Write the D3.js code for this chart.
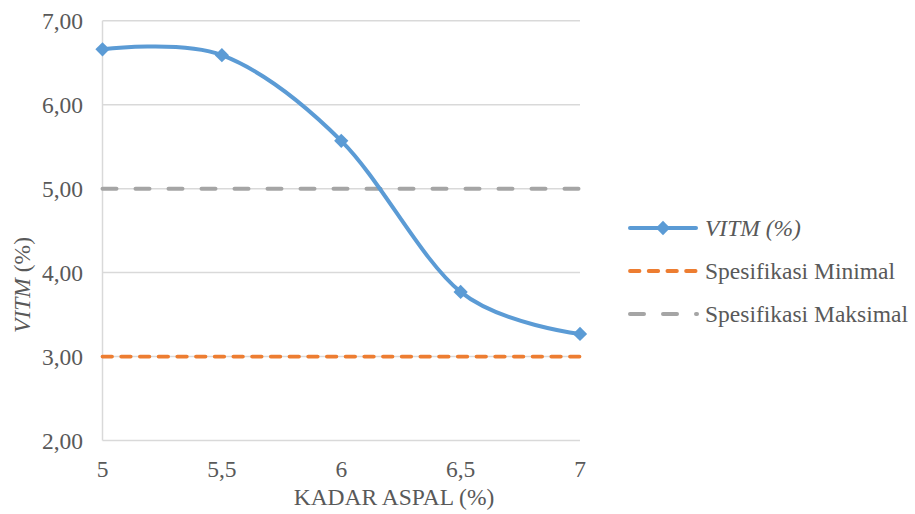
<!DOCTYPE html>
<html>
<head>
<meta charset="utf-8">
<script src="https://cdn.jsdelivr.net/npm/d3@7"></script>
<style>
  html, body { margin: 0; padding: 0; background: #fff; }
  svg { display: block; }
</style>
</head>
<body>
<svg id="chart" width="915" height="514" font-family="Times New Roman"></svg>
<script>
// Asphalt content (%) and measured VITM (%)
const kadarAspal = [5, 5.5, 6, 6.5, 7];
const vitm = [6.66, 6.59, 5.57, 3.77, 3.27];
const specMin = [3, 3, 3, 3, 3];
const specMax = [5, 5, 5, 5, 5];
const xTicks = [5, 5.5, 6, 6.5, 7];
const yTicks = [2, 3, 4, 5, 6, 7];
const legendLabels = ["VITM (%)", "Spesifikasi Minimal", "Spesifikasi Maksimal"];

const svg = d3.select("#chart");
const textColor = "#595959";
const fontFamily = "Times New Roman";
const fontSize = 23.5;
const fmtY = v => d3.format(".2f")(v).replace(".", ",");
const fmtX = v => String(v).replace(".", ",");

// shared text styling
function styleText(sel) {
  return sel.attr("font-family", fontFamily)
    .attr("font-size", fontSize)
    .attr("fill", textColor);
}

const x = d3.scaleLinear().domain([5, 7]).range([102.5, 580]);
const y = d3.scaleLinear().domain([2, 7]).range([440.5, 20.8]);

// horizontal gridlines
svg.append("g")
  .selectAll("line")
  .data(yTicks)
  .join("line")
  .attr("x1", x(5)).attr("x2", x(7))
  .attr("y1", d => y(d)).attr("y2", d => y(d))
  .attr("stroke", "#d9d9d9").attr("stroke-width", 1.5);

// left axis line
svg.append("line")
  .attr("x1", x(5)).attr("x2", x(5))
  .attr("y1", y(7)).attr("y2", y(2))
  .attr("stroke", "#d9d9d9").attr("stroke-width", 1.5);

// y tick labels
svg.append("g")
  .selectAll("text")
  .data(yTicks)
  .join("text")
  .attr("x", 83)
  .attr("y", d => y(d) + 8)
  .attr("text-anchor", "end")
  .call(styleText)
  .text(fmtY);

// x tick labels
svg.append("g")
  .selectAll("text")
  .data(xTicks)
  .join("text")
  .attr("x", d => x(d))
  .attr("y", 477)
  .attr("text-anchor", "middle")
  .call(styleText)
  .text(fmtX);

// axis titles
svg.append("text")
  .attr("x", 394).attr("y", 505)
  .attr("text-anchor", "middle")
  .call(styleText)
  .text("KADAR ASPAL (%)");

const yTitle = svg.append("text")
  .attr("transform", "translate(30,285) rotate(-90)")
  .attr("text-anchor", "middle")
  .call(styleText);
yTitle.append("tspan").attr("font-style", "italic").text("VITM");
yTitle.append("tspan").text(" (%)");

// specification lines
const flat = d3.line().x((d, i) => x(kadarAspal[i])).y(d => y(d));
svg.append("path")
  .attr("d", flat(specMax))
  .attr("fill", "none").attr("stroke", "#a5a5a5")
  .attr("stroke-width", 4).attr("stroke-linecap", "round")
  .attr("stroke-dasharray", "14,19");
svg.append("path")
  .attr("d", flat(specMin))
  .attr("fill", "none").attr("stroke", "#ed7d31")
  .attr("stroke-width", 3.8).attr("stroke-linecap", "round")
  .attr("stroke-dasharray", "9.5,9.2");

// VITM smoothed line
const smooth = d3.line()
  .x((d, i) => x(kadarAspal[i]))
  .y(d => y(d))
  .curve(d3.curveCatmullRom.alpha(0));
svg.append("path")
  .attr("d", smooth(vitm))
  .attr("fill", "none").attr("stroke", "#5b9bd5")
  .attr("stroke-width", 4).attr("stroke-linejoin", "round");

const diamond = d3.symbol().type(d3.symbolDiamond2).size(130);
svg.append("g")
  .selectAll("path")
  .data(vitm)
  .join("path")
  .attr("transform", (d, i) => `translate(${x(kadarAspal[i])},${y(d)})`)
  .attr("d", diamond)
  .attr("fill", "#5b9bd5");

// legend
const legend = svg.append("g");
const ly = [228, 271, 314];
legend.append("line")
  .attr("x1", 630).attr("x2", 696).attr("y1", ly[0]).attr("y2", ly[0])
  .attr("stroke", "#5b9bd5").attr("stroke-width", 4).attr("stroke-linecap", "round");
legend.append("path")
  .attr("transform", `translate(663,${ly[0]})`)
  .attr("d", diamond).attr("fill", "#5b9bd5");
legend.append("line")
  .attr("x1", 630).attr("x2", 696).attr("y1", ly[1]).attr("y2", ly[1])
  .attr("stroke", "#ed7d31").attr("stroke-width", 3.8).attr("stroke-linecap", "round")
  .attr("stroke-dasharray", "9.5,9.2");
legend.append("line")
  .attr("x1", 630).attr("x2", 697).attr("y1", ly[2]).attr("y2", ly[2])
  .attr("stroke", "#a5a5a5").attr("stroke-width", 4).attr("stroke-linecap", "round")
  .attr("stroke-dasharray", "14,19");

legend.selectAll("text.lab")
  .data(legendLabels)
  .join("text")
  .attr("class", "lab")
  .attr("x", 705)
  .attr("y", (d, i) => ly[i] + 8)
  .call(styleText)
  .attr("font-style", (d, i) => i === 0 ? "italic" : "normal")
  .text(d => d);
</script>
</body>
</html>
